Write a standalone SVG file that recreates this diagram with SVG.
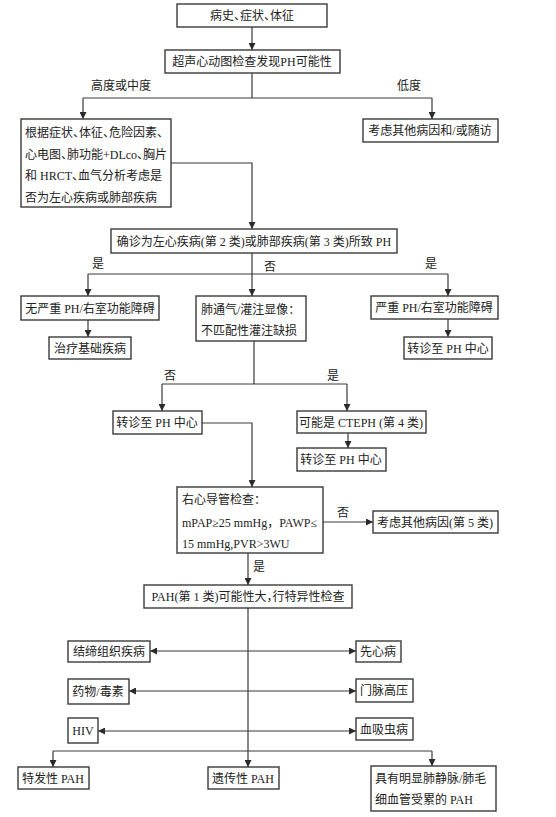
<svg xmlns="http://www.w3.org/2000/svg" width="556" height="817" viewBox="0 0 556 817">
<style>
.b{fill:#fff;stroke:#3a3a3a;stroke-width:1.4}
.t{font-family:"Liberation Serif","Noto Sans CJK SC",serif;font-size:12px;fill:#222}
.h{font-feature-settings:"halt" 1}
.m{text-anchor:middle}
.c{fill:none;stroke:#3a3a3a;stroke-width:1.2}
</style>
<defs>
<marker id="a" viewBox="0 0 8 8" refX="8" refY="4" markerWidth="7" markerHeight="7" markerUnits="userSpaceOnUse" orient="auto-start-reverse">
<path d="M0,0L8,4L0,8z" fill="#2a2a2a"/>
</marker>
</defs>
<rect width="556" height="817" fill="#fff"/>
<g id="connectors">
<path class="c" d="M252,27V50" marker-end="url(#a)"/>
<path class="c" d="M252,73V98M83,98H432"/>
<path class="c" d="M83,98V119" marker-end="url(#a)"/>
<path class="c" d="M432,98V119" marker-end="url(#a)"/>
<path class="c" d="M171,163H252V229" marker-end="url(#a)"/>
<path class="c" d="M252,253V274M88,274H448"/>
<path class="c" d="M88,274V296" marker-end="url(#a)"/>
<path class="c" d="M252,274V296" marker-end="url(#a)"/>
<path class="c" d="M448,274V296" marker-end="url(#a)"/>
<path class="c" d="M88,320V337" marker-end="url(#a)"/>
<path class="c" d="M448,319V337" marker-end="url(#a)"/>
<path class="c" d="M254,341V384M162,384H347"/>
<path class="c" d="M162,384V411" marker-end="url(#a)"/>
<path class="c" d="M347,384V411" marker-end="url(#a)"/>
<path class="c" d="M348,433V448" marker-end="url(#a)"/>
<path class="c" d="M202,423H252V487" marker-end="url(#a)"/>
<path class="c" d="M323,522H373" marker-end="url(#a)"/>
<path class="c" d="M248,553V585" marker-end="url(#a)"/>
<path class="c" d="M248,608V767" marker-end="url(#a)"/>
<path class="c" d="M53,751H432"/>
<path class="c" d="M53,751V767" marker-end="url(#a)"/>
<path class="c" d="M432,751V766" marker-end="url(#a)"/>
<path class="c" d="M150,651H356" marker-start="url(#a)" marker-end="url(#a)"/>
<path class="c" d="M129,691H356" marker-start="url(#a)" marker-end="url(#a)"/>
<path class="c" d="M98,731H356" marker-start="url(#a)" marker-end="url(#a)"/>
<text class="t m" x="121" y="90">高度或中度</text>
<text class="t m" x="409" y="90">低度</text>
<text class="t m" x="98" y="268">是</text>
<text class="t m" x="270" y="271">否</text>
<text class="t m" x="431" y="268">是</text>
<text class="t m" x="170" y="380">否</text>
<text class="t m" x="333" y="380">是</text>
<text class="t m" x="343" y="517">否</text>
<text class="t m" x="259" y="571">是</text>
</g>
<g id="n1"><rect class="b" x="177" y="4" width="150" height="23"/><text class="t m h" x="252" y="20">病史、症状、体征</text></g>
<g id="n2"><rect class="b" x="165" y="50" width="175" height="23"/><text class="t m" x="252" y="66">超声心动图检查发现PH可能性</text></g>
<g id="n3"><rect class="b" x="21" y="119" width="150" height="88"/>
<text class="t h" x="25" y="137">根据症状、体征、危险因素、</text>
<text class="t h" x="25" y="159">心电图、肺功能+DLco、胸片</text>
<text class="t h" x="25" y="180">和 HRCT、血气分析考虑是</text>
<text class="t" x="25" y="202">否为左心疾病或肺部疾病</text></g>
<g id="n4"><rect class="b" x="363" y="119" width="135" height="23"/><text class="t m" x="430" y="135">考虑其他病因和/或随访</text></g>
<g id="n5"><rect class="b" x="111" y="229" width="286" height="24"/><text class="t m" x="254" y="246">确诊为左心疾病(第 2 类)或肺部疾病(第 3 类)所致 PH</text></g>
<g id="n6"><rect class="b" x="21" y="296" width="138" height="24"/><text class="t m" x="90" y="313">无严重 PH/右室功能障碍</text></g>
<g id="n7"><rect class="b" x="49" y="337" width="82" height="22"/><text class="t m" x="90" y="353">治疗基础疾病</text></g>
<g id="n8"><rect class="b" x="196" y="296" width="110" height="45"/>
<text class="t" x="201" y="314">肺通气/灌注显像：</text>
<text class="t" x="201" y="335">不匹配性灌注缺损</text></g>
<g id="n9"><rect class="b" x="371" y="296" width="127" height="23"/><text class="t m" x="434" y="312">严重 PH/右室功能障碍</text></g>
<g id="n10"><rect class="b" x="404" y="337" width="88" height="22"/><text class="t m" x="448" y="353">转诊至 PH 中心</text></g>
<g id="n11"><rect class="b" x="113" y="411" width="89" height="23"/><text class="t m" x="157" y="427">转诊至 PH 中心</text></g>
<g id="n12"><rect class="b" x="297" y="411" width="129" height="22"/><text class="t m" x="361" y="427">可能是 CTEPH (第 4 类)</text></g>
<g id="n13"><rect class="b" x="297" y="448" width="89" height="23"/><text class="t m" x="341" y="464">转诊至 PH 中心</text></g>
<g id="n14"><rect class="b" x="177" y="487" width="146" height="66"/>
<text class="t" x="182" y="504">右心导管检查：</text>
<text class="t" x="182" y="527">mPAP≥25 mmHg，PAWP≤</text>
<text class="t" x="182" y="548">15 mmHg,PVR&gt;3WU</text></g>
<g id="n15"><rect class="b" x="373" y="511" width="125" height="22"/><text class="t m" x="435" y="527">考虑其他病因(第 5 类)</text></g>
<g id="n16"><rect class="b" x="144" y="585" width="208" height="23"/><text class="t m h" x="248" y="601">PAH(第 1 类)可能性大，行特异性检查</text></g>
<g id="n17"><rect class="b" x="68" y="641" width="82" height="21"/><text class="t m" x="109" y="656">结缔组织疾病</text></g>
<g id="n18"><rect class="b" x="356" y="641" width="45" height="21"/><text class="t m" x="378" y="656">先心病</text></g>
<g id="n19"><rect class="b" x="68" y="679" width="61" height="25"/><text class="t m" x="98" y="696">药物/毒素</text></g>
<g id="n20"><rect class="b" x="356" y="679" width="57" height="23"/><text class="t m" x="384" y="695">门脉高压</text></g>
<g id="n21"><rect class="b" x="68" y="718" width="30" height="25"/><text class="t m" x="83" y="735">HIV</text></g>
<g id="n22"><rect class="b" x="356" y="718" width="57" height="22"/><text class="t m" x="384" y="734">血吸虫病</text></g>
<g id="n23"><rect class="b" x="18" y="767" width="71" height="22"/><text class="t m" x="53" y="783">特发性 PAH</text></g>
<g id="n24"><rect class="b" x="208" y="767" width="71" height="22"/><text class="t m" x="243" y="783">遗传性 PAH</text></g>
<g id="n25"><rect class="b" x="371" y="766" width="125" height="45"/>
<text class="t" x="375" y="783">具有明显肺静脉/肺毛</text>
<text class="t" x="375" y="804">细血管受累的 PAH</text></g>
</svg>
